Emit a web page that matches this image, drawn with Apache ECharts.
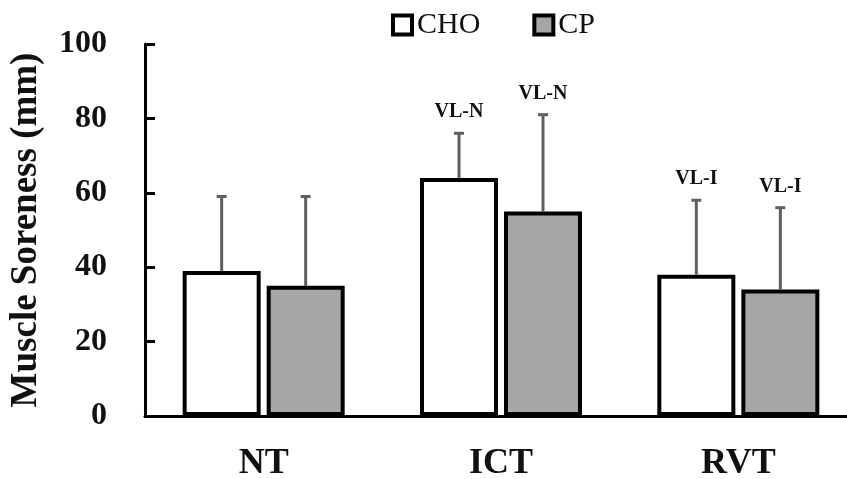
<!DOCTYPE html>
<html>
<head>
<meta charset="utf-8">
<script src="https://cdn.jsdelivr.net/npm/echarts@6/dist/echarts.min.js"></script>
<style>
  html, body { margin: 0; padding: 0; background: #fff; }
  #chart { width: 847px; height: 479px; }
</style>
</head>
<body>
<div id="chart"></div>
<script>
// data
const categories = ['NT', 'ICT', 'RVT'];
const choMean = [39, 64, 38];
const choUpper = [59, 76, 58];
const cpMean = [35, 55, 34];
const cpUpper = [59, 81, 56];
const choNote = ['', 'VL-N', 'VL-I'];
const cpNote = ['', 'VL-N', 'VL-I'];

const FONT = 'Liberation Serif';
const BAR_W = 78;
const BAR_GAP = 6;

// error bar + note above it, drawn with the axis scales
function errorSeries(name, means, uppers, notes, shift) {
  return {
    name: name + ' err',
    type: 'custom',
    z: 5,
    data: means.map((m, i) => [i, m, uppers[i]]),
    renderItem: function (params, api) {
      const base = api.coord([api.value(0), api.value(1)]);
      const top = api.coord([api.value(0), api.value(2)]);
      const x = base[0] + shift;
      const note = notes[params.dataIndex];
      const kids = [
        { type: 'line', shape: { x1: x, y1: base[1], x2: x, y2: top[1] },
          style: { stroke: '#606060', lineWidth: 3 } },
        { type: 'line', shape: { x1: x - 5, y1: top[1], x2: x + 5, y2: top[1] },
          style: { stroke: '#606060', lineWidth: 3 } }
      ];
      if (note) {
        kids.push({
          type: 'text',
          style: {
            x: x, y: top[1] - 11, text: note,
            align: 'center', verticalAlign: 'bottom',
            font: 'bold 20px "' + FONT + '"', fill: '#111'
          }
        });
      }
      return { type: 'group', children: kids };
    }
  };
}

const chart = echarts.init(document.getElementById('chart'));
chart.setOption({
  animation: false,
  backgroundColor: '#fff',
  grid: { left: 145, width: 712, top: 44, bottom: 63, outerBoundsMode: 'none' },
  legend: {
    data: ['CHO', 'CP'],
    left: 386,
    top: 5,
    icon: 'rect',
    itemWidth: 19,
    itemHeight: 19,
    itemGap: 52,
    itemStyle: { borderColor: '#000', borderWidth: 4 },
    textStyle: { fontFamily: FONT, fontSize: 30, color: '#111' }
  },
  xAxis: {
    type: 'category',
    data: categories,
    axisLine: { lineStyle: { color: '#000', width: 3 } },
    axisTick: { show: false },
    axisLabel: {
      margin: 30,
      fontFamily: FONT, fontWeight: 'bold', fontSize: 36, color: '#111'
    }
  },
  yAxis: {
    type: 'value',
    min: 0,
    max: 100,
    interval: 20,
    name: 'Muscle Soreness (mm)',
    nameLocation: 'middle',
    nameGap: 100,
    nameTextStyle: { fontFamily: FONT, fontWeight: 'bold', fontSize: 37, color: '#111' },
    axisLine: { show: true, lineStyle: { color: '#000', width: 3 } },
    axisTick: { show: true, inside: true, length: 10, lineStyle: { color: '#000', width: 3 } },
    axisLabel: {
      margin: 38,
      fontFamily: FONT, fontWeight: 'bold', fontSize: 32, color: '#111'
    },
    splitLine: { show: false }
  },
  series: [
    {
      name: 'CHO',
      type: 'bar',
      data: choMean,
      barWidth: BAR_W,
      barGap: (BAR_GAP / BAR_W * 100) + '%',
      itemStyle: { color: '#fff', borderColor: '#000', borderWidth: 4 }
    },
    {
      name: 'CP',
      type: 'bar',
      data: cpMean,
      barWidth: BAR_W,
      itemStyle: { color: '#a6a6a6', borderColor: '#000', borderWidth: 4 }
    },
    errorSeries('CHO', choMean, choUpper, choNote, -(BAR_W + BAR_GAP) / 2),
    errorSeries('CP', cpMean, cpUpper, cpNote, (BAR_W + BAR_GAP) / 2)
  ]
});
</script>
</body>
</html>
